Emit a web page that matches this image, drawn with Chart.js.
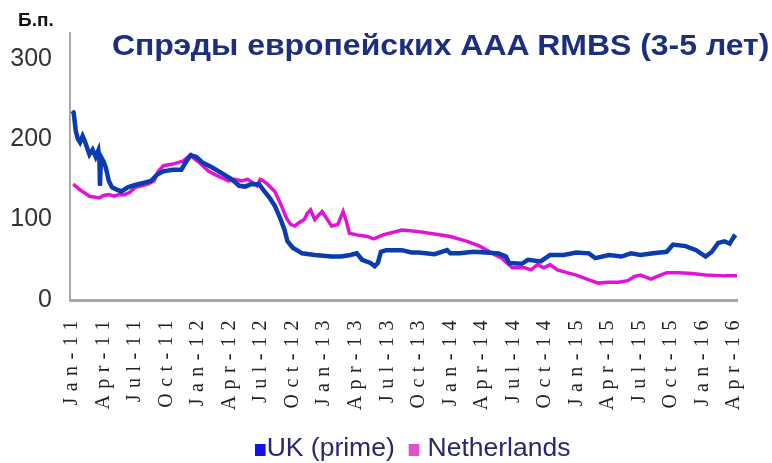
<!DOCTYPE html>
<html>
<head>
<meta charset="utf-8">
<script src="https://cdn.jsdelivr.net/npm/chart.js@4.4.1/dist/chart.umd.min.js"></script>
<style>
  html, body { margin:0; padding:0; background:#fff; }
  #wrap { position:relative; width:772px; height:463px; overflow:hidden; }
  #chart { position:absolute; left:0; top:0; }
  .unit { position:absolute; left:18px; top:9px; font:bold 19px "Liberation Sans", Arial, sans-serif; color:#111; }
  .title { position:absolute; left:112px; top:28px; font:bold 30px "Liberation Sans", Arial, sans-serif; color:#1b2f7e;
           white-space:nowrap; transform-origin:0 0; transform:scaleX(1.065); }
  .legend { position:absolute; left:255px; top:433px; font:25px "Liberation Sans", Arial, sans-serif; color:#27276e;
            white-space:nowrap; transform-origin:0 0; transform:scaleX(1.06); }
  .legend .sq { display:inline-block; width:10px; height:12px; margin-right:1px; vertical-align:0px; }
</style>
</head>
<body>
<div id="wrap">
  <canvas id="chart" width="772" height="463"></canvas>
  <div class="unit">Б.п.</div>
  <div class="title">Спрэды европейских AAA RMBS (3-5 лет)</div>
  <div class="legend"><span class="sq" style="background:#1212f0"></span>UK (prime) <span class="sq" style="background:#e050cc;margin-left:6px"></span> Netherlands</div>
</div>
<script>
// x = months since Jan-2011
const tickLabels = ["Jan-11","Apr-11","Jul-11","Oct-11","Jan-12","Apr-12","Jul-12","Oct-12","Jan-13","Apr-13","Jul-13",
  "Oct-13","Jan-14","Apr-14","Jul-14","Oct-14","Jan-15","Apr-15","Jul-15","Oct-15","Jan-16","Apr-16"];

const ukMonths = [0,0.15,0.35,0.55,0.75,1.0,1.2,1.35,1.65,1.95,2.25,2.5,2.6,2.65,2.75,3.0,3.2,3.5,3.8,4.3,4.7,5.3,6.0,6.9,7.5,
  8.1,8.7,9.6,10.4,10.9,11.3,11.8,12.4,13.3,14.2,15.2,15.9,16.5,17.0,17.8,18.2,18.8,19.3,19.8,20.2,20.5,21.0,21.9,23.1,
  24.7,25.6,26.5,27.1,27.6,28.4,28.8,29.1,29.4,29.9,31.4,32.3,33.0,34.5,35.7,36.0,36.9,38.2,39.4,40.6,41.3,41.6,42.8,
  43.4,44.6,45.5,46.8,48.0,49.2,49.8,51.1,52.3,53.2,54.1,55.3,56.6,57.2,58.4,59.4,60.3,60.9,61.5,62.1,62.6,63.0,63.2];
const ukValues = [235,233,210,200,196,204,198,192,181,187,178,186,175,142,178,172,165,148,140,137,135,140,143,146,148,
  156,160,162,162,173,180,178,171,165,158,150,142,141,144,144,137,127,117,102,88,73,65,58,56,
  54,54,56,58,50,46,42,46,60,62,62,59,59,57,62,58,58,60,59,58,54,46,45,
  50,48,56,56,59,58,52,56,54,58,56,58,60,69,67,62,54,60,71,73,70,79,77];

const nlMonths = [0.1,0.4,0.74,1.2,1.66,2.1,2.6,3.0,3.5,4.0,4.4,5.0,5.5,6.0,6.6,7.2,7.8,8.2,8.7,9.6,10.6,11.3,11.6,12.1,
  13.0,13.9,14.9,15.5,16.1,16.7,17.2,17.6,17.9,18.2,18.6,19.3,19.8,20.4,20.8,21.2,21.6,22.1,22.4,22.7,23.1,23.5,23.8,
  24.2,24.7,25.3,25.6,25.8,26.1,26.4,27.1,28.1,28.7,29.6,30.2,30.8,31.4,32.2,33.0,34.5,36.0,37.6,38.8,40.0,40.9,41.9,
  43.1,43.7,44.3,44.9,45.5,46.2,47.1,48.0,49.2,50.1,51.1,52.0,52.9,53.5,54.1,55.1,56.0,56.6,57.8,59.0,60.3,62.1,63.3];
const nlValues = [144,141,137,133,129,128,127,130,131,129,131,131,134,140,142,144,148,160,167,169,173,181,176,171,
  160,154,148,150,148,150,146,142,150,148,144,135,121,102,94,92,96,100,108,112,100,106,110,
  102,92,94,104,110,98,83,81,79,76,81,83,85,87,86,85,82,79,73,67,58,52,40,
  40,37.5,44,40,44,37.5,34,31,25,21,22,22,24,29,31,26,31,34,34,33,31,30,30];

const toPts = (xs, ys) => xs.map((x, i) => ({ x, y: ys[i] }));

// wide letter spacing on the rotated month labels only
const spacedLabels = {
  id: "spacedLabels",
  beforeDraw(chart){
    const sx = chart.scales.x;
    if (sx._spaced) return;
    const orig = sx.drawLabels.bind(sx);
    sx.drawLabels = function(area){
      const c = this.ctx;
      const prev = c.letterSpacing;
      c.letterSpacing = "6.5px";
      orig(area);
      c.letterSpacing = prev;
    };
    sx._spaced = true;
  }
};

new Chart(document.getElementById("chart"), {
  type: "line",
  data: {
    datasets: [
      { label: "UK (prime)", data: toPts(ukMonths, ukValues), borderColor: "#0a3cb0", borderWidth: 4.5,
        pointRadius: 0, tension: 0, borderJoinStyle: "miter" },
      { label: "Netherlands", data: toPts(nlMonths, nlValues), borderColor: "#e014d8", borderWidth: 3.5,
        pointRadius: 0, tension: 0 }
    ]
  },
  plugins: [spacedLabels],
  options: {
    responsive: false,
    animation: false,
    layout: { padding: { top: 32, right: 12, bottom: 53, left: 0 } },
    plugins: { legend: { display: false }, tooltip: { enabled: false } },
    scales: {
      x: {
        type: "linear", min: -0.2, max: 63.3,
        afterBuildTicks: s => { s.ticks = tickLabels.map((_, i) => ({ value: i * 3 })); },
        afterFit: s => { s.height = 110; },
        grid: { display: false, drawTicks: false },
        border: { color: "#a8a8a8", width: 3 },
        ticks: {
          autoSkip: false, minRotation: 90, maxRotation: 90, padding: 14,
          color: "#222", font: { family: "'Liberation Serif', 'Times New Roman', serif", size: 20 },
          callback: v => tickLabels[Math.round(v / 3)]
        }
      },
      y: {
        min: 0, max: 332,
        afterBuildTicks: s => { s.ticks = [0, 100, 200, 300].map(v => ({ value: v })); },
        afterFit: s => { s.width = 70; },
        grid: { display: false, drawTicks: false },
        border: { color: "#a8a8a8", width: 2 },
        ticks: {
          padding: 18, color: "#333",
          font: { family: "'Liberation Sans Narrow', 'Liberation Sans', sans-serif", size: 25 }
        }
      }
    }
  }
});
</script>
</body>
</html>
